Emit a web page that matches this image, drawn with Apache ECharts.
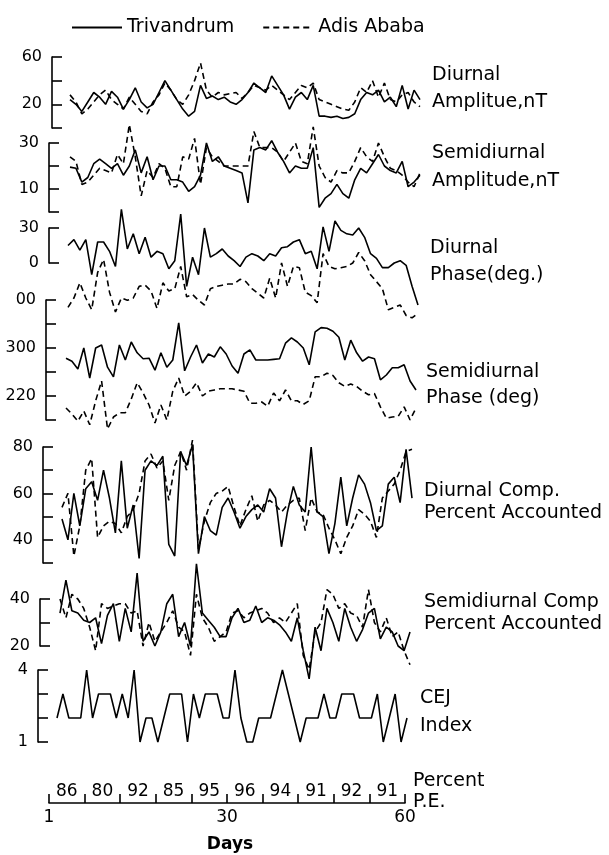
<!DOCTYPE html>
<html>
<head>
<meta charset="utf-8">
<script src="https://cdn.jsdelivr.net/npm/echarts@6/dist/echarts.min.js"></script>
<style>
  html, body { margin: 0; padding: 0; background: #fff; }
  #chart { width: 609px; height: 855px; }
</style>
</head>
<body>
<div id="chart"></div>
<script>
// Day numbers of the 60-day record
const days = Array.from({ length: 60 }, (_, i) => i + 1);

// Diurnal amplitude (nT)
const diurnalAmpTri  = [24,20,14,22,30,26,20,31,26,16, 24,34,22,17,20,30,40,32,24,16, 10,14,36,25,27,24,26,22,20,24, 30,38,34,30,44,36,28,16,26,30, 24,36,10,10,9,10,8,9,12,24, 30,28,32,22,26,18,36,16,32,24];
const diurnalAmpAdis = [28,22,12,16,22,28,32,24,20,16, 26,20,14,12,22,28,38,32,24,20, 28,40,55,32,26,30,28,29,30,25, 30,36,34,32,36,32,28,24,30,36, 34,38,24,22,20,18,16,15,22,34, 30,40,26,38,24,22,28,30,22,18];

// Semidiurnal amplitude (nT)
const semiAmpTri  = [19.5,19,13,15,21,23,21,19,21,16, 20,27,17,24,14,20,20,14,14,13, 9,11,16,30,22,24,20,19,18,17, 4,27,28,27,31,26,22,17,20,19, 19,28,2,6,8,12,8,6,14,19, 17,21,25,20,18,17,22,11,13,16];
const semiAmpAdis = [24,22,12,13,16,19,18,17,25,21, 38,24,7,18,15,21,19,11,11,24, 23,32,12,28,24,22,20,20,20,20, 20,35,28,28,28,26,22,26,30,22, 21,37,20,15,13,18,17,17,22,28, 24,22,30,24,19,18,16,13,11,17];

// Diurnal phase (deg)
const diurnalPhaseTri  = [15,20,11,20,-10,18,18,10,-3,46, 12,25,8,22,5,10,8,-5,2,42, -20,5,-10,30,5,8,12,6,2,-3, 5,8,6,2,8,6,13,14,18,20, 8,10,-5,31,10,36,28,25,24,30, 22,8,4,-4,-4,0,2,-2,-20,-36];
const diurnalPhaseAdis = [-38,-30,-17,-30,-40,-8,3,-25,-42,-30, -32,-30,-20,-19,-24,-39,-17,-24,-22,-3, -29,-27,-32,-36,-22,-20,-19,-18,-18,-14, -16,-22,-26,-30,-13,-30,0,-20,-3,-4, -25,-28,-34,8,-3,-5,-4,-3,0,9, 2,-10,-16,-22,-40,-38,-36,-45,-47,-43];

// Semidiurnal phase (deg)
const semiPhaseTri  = [283,278,265,300,250,300,305,268,252,305, 280,310,292,282,283,263,292,268,280,342, 262,285,305,275,290,285,302,290,270,258, 290,297,280,280,280,281,282,308,317,310, 300,272,327,334,333,328,318,280,313,292, 278,285,282,247,255,267,267,272,245,230];
const semiPhaseAdis = [200,190,178,195,172,212,245,165,185,192, 192,215,242,225,205,175,205,180,228,250, 220,228,242,220,228,230,232,232,232,230, 228,208,208,210,203,225,212,230,212,212, 206,212,252,252,258,254,242,236,240,236, 228,222,224,202,183,185,186,202,180,200];

// Diurnal component, percent accounted
const diurnalCompTri  = [49,40,60,46,62,65,57,70,58,43, 74,45,55,32,70,74,72,76,38,33, 78,72,81,34,50,44,42,54,58,52, 45,50,53,55,52,62,58,37,52,63, 55,52,80,52,50,34,47,67,46,58, 68,64,56,44,46,64,67,56,79,58];
const diurnalCompAdis = [54,60,33,46,70,75,41,46,48,47, 43,50,53,60,74,77,71,74,57,72, 78,70,83,36,48,56,60,61,63,54, 46,53,59,48,55,57,55,52,55,57, 58,44,58,52,51,45,40,34,41,46, 53,51,48,41,58,61,64,70,78,79];

// Semidiurnal component, percent accounted
const semiCompTri  = [34,48,35,34,31,30,32,21,33,38, 22,36,26,51,22,26,20,26,38,42, 24,30,20,55,34,31,28,24,24,32, 36,30,31,37,30,32,31,29,26,22, 32,18,6,28,18,36,30,22,36,28, 22,27,34,36,23,28,26,20,18,26];
const semiCompAdis = [40,32,42,40,36,28,18,38,36,37, 38,38,34,35,20,30,22,26,30,35, 28,26,16,42,32,28,22,24,26,34, 35,32,34,35,36,34,30,32,30,34, 38,16,10,26,30,44,42,36,38,34, 33,28,44,30,26,32,24,26,18,12];

// CEJ index
const cejIndex = [2,3,2,2,2,4,2,3,3,3, 2,3,2,4,1,2,2,1,2,3, 3,3,1,3,2,3,3,3,2,2, 4,2,1,1,2,2,2,3,4,3, 2,1,2,2,2,3,2,2,3,3, 3,2,2,2,3,1,2,3,1,2];

// Tick labels of each axis (value -> printed text)
const diurnalAmpTicks   = { 20: '20', 60: '60' };
const semiAmpTicks      = { 10: '10', 30: '30' };
const diurnalPhaseTicks = { 0: '0', 30: '30' };
const semiPhaseTicks    = { 220: '220', 300: '300', 380: '00' };
const diurnalCompTicks  = { 40: '40', 60: '60', 80: '80' };
const semiCompTicks     = { 20: '20', 40: '40' };
const cejTicks          = { 1: '1', 4: '4' };
const dayTicks          = { 0: '1', 30: '30', 60: '60' };
// Percent of pure-easterly days in each 6-day block
const percentPE = ['86', '80', '92', '85', '95', '96', '94', '91', '92', '91'];

const FONT = 'DejaVu Sans';
const INK = '#000';
const SOLID = { color: INK, width: 1.6, type: 'solid' };
const DASHED = { color: INK, width: 1.6, type: [6, 4] };

// Layout of the stacked panels (pixels)
const panels = [
  { top: 57,  height: 71,  left: 70, axisX: 52, min: 0,   max: 60,  step: 20, ticks: diurnalAmpTicks,
    lines: [['Trivandrum', diurnalAmpTri, SOLID], ['Adis Ababa', diurnalAmpAdis, DASHED]] },
  { top: 143, height: 69,  left: 70, axisX: 49, min: 0,   max: 30,  step: 10, ticks: semiAmpTicks,
    lines: [['Trivandrum', semiAmpTri, SOLID], ['Adis Ababa', semiAmpAdis, DASHED]] },
  { top: 228, height: 35,  left: 68, axisX: 49, min: 0,   max: 30,  step: 30, ticks: diurnalPhaseTicks,
    lines: [['Trivandrum', diurnalPhaseTri, SOLID], ['Adis Ababa', diurnalPhaseAdis, DASHED]] },
  { top: 300, height: 120, left: 66, axisX: 46, min: 180, max: 380, step: 40, ticks: semiPhaseTicks,
    lines: [['Trivandrum', semiPhaseTri, SOLID], ['Adis Ababa', semiPhaseAdis, DASHED]] },
  { top: 447, height: 116, left: 62, axisX: 43, min: 30,  max: 80,  step: 10, ticks: diurnalCompTicks,
    lines: [['Trivandrum', diurnalCompTri, SOLID], ['Adis Ababa', diurnalCompAdis, DASHED]] },
  { top: 599, height: 47,  left: 60, axisX: 40, min: 20,  max: 40,  step: 10, ticks: semiCompTicks,
    lines: [['Trivandrum', semiCompTri, SOLID], ['Adis Ababa', semiCompAdis, DASHED]] },
  { top: 670, height: 72,  left: 57, axisX: 38, min: 1,   max: 4,   step: 1,  ticks: cejTicks,
    lines: [['CEJ index', cejIndex, SOLID]] }
];

const grid = [], xAxis = [], yAxis = [], series = [];
panels.forEach((p, i) => {
  grid.push({ left: p.left, top: p.top, width: 350, height: p.height });
  xAxis.push({ gridIndex: i, type: 'value', min: 1, max: 60, show: false });
  yAxis.push({
    gridIndex: i, type: 'value', min: p.min, max: p.max, interval: p.step,
    offset: p.left - p.axisX,
    axisLine: { show: true, lineStyle: { color: INK, width: 1.6 } },
    axisTick: { show: true, inside: true, length: 10, lineStyle: { color: INK, width: 1.6 } },
    axisLabel: {
      margin: 10, color: INK, fontFamily: FONT, fontSize: 16,
      formatter: v => (p.ticks[v] !== undefined ? p.ticks[v] : '')
    },
    splitLine: { show: false }
  });
  p.lines.forEach(([name, values, style]) => {
    series.push({
      name, type: 'line', xAxisIndex: i, yAxisIndex: i,
      data: values.map((v, k) => [days[k], v]),
      symbol: 'none', clip: false, silent: true,
      color: INK, lineStyle: style
    });
  });
});

// Day axis with the percent P.E. blocks
const b = panels.length;
grid.push({ left: 49, top: 760, width: 356, height: 43 });
xAxis.push({
  gridIndex: b, type: 'value', min: 0, max: 60, interval: 6, position: 'bottom',
  axisLine: { show: true, lineStyle: { color: INK, width: 1.6 } },
  axisTick: { show: true, inside: true, length: 9, lineStyle: { color: INK, width: 1.6 } },
  axisLabel: { margin: 6, color: INK, fontFamily: FONT, fontSize: 17,
    formatter: v => (dayTicks[v] !== undefined ? dayTicks[v] : '') },
  splitLine: { show: false }
});
xAxis.push({
  gridIndex: b, type: 'category', data: percentPE, position: 'bottom', boundaryGap: true,
  axisLine: { show: false }, axisTick: { show: false },
  axisLabel: { inside: true, margin: 3, color: INK, fontFamily: FONT, fontSize: 17, interval: 0 }
});
yAxis.push({ gridIndex: b, type: 'value', show: false });

const txt = (x, y, text, extra) => ({
  type: 'text', x, y, silent: true,
  style: Object.assign({ text, fill: INK, fontFamily: FONT, fontSize: 19, verticalAlign: 'middle' }, extra || {})
});

const graphic = [
  txt(432, 75, 'Diurnal'), txt(432, 102, 'Amplitue,nT'),
  txt(432, 153, 'Semidiurnal'), txt(432, 181, 'Amplitude,nT'),
  txt(430, 248, 'Diurnal'), txt(430, 275, 'Phase(deg.)'),
  txt(426, 372, 'Semidiurnal'), txt(426, 398, 'Phase (deg)'),
  txt(424, 491, 'Diurnal Comp.'), txt(424, 513, 'Percent Accounted'),
  txt(424, 602, 'Semidiurnal Comp'), txt(424, 624, 'Percent Accounted'),
  txt(420, 698, 'CEJ'), txt(420, 726, 'Index'),
  txt(413, 781, 'Percent'), txt(413, 802, 'P.E.'),
  txt(230, 845, 'Days', { fontSize: 17, fontWeight: 'bold', align: 'center' })
];

const chart = echarts.init(document.getElementById('chart'), null, { renderer: 'canvas' });
chart.setOption({
  backgroundColor: '#fff',
  animation: false,
  legend: {
    data: ['Trivandrum', 'Adis Ababa'],
    left: 66, top: 13, itemWidth: 50, itemHeight: 14, itemGap: 28,
    selectedMode: false,
    itemStyle: { opacity: 0 },
    textStyle: { color: INK, fontFamily: FONT, fontSize: 19 }
  },
  grid, xAxis, yAxis, series, graphic
});
</script>
</body>
</html>
